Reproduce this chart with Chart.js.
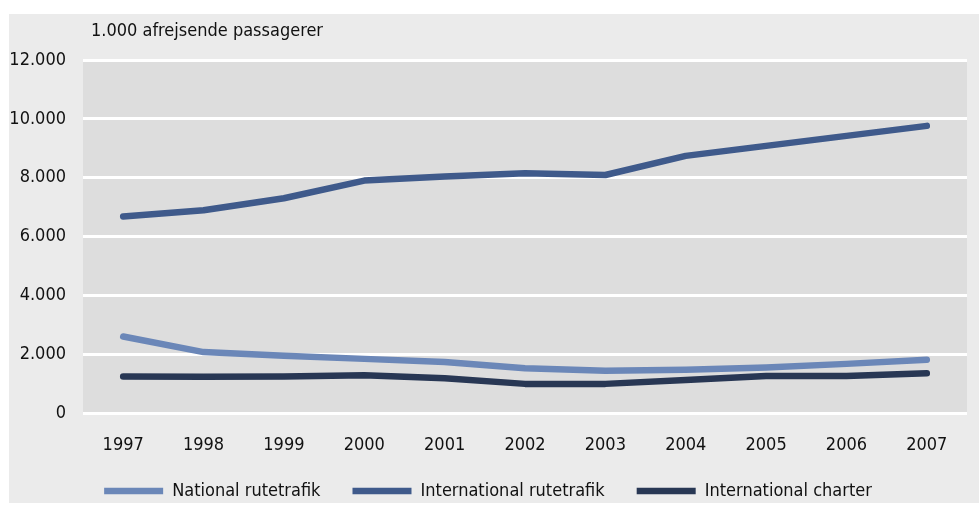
<!DOCTYPE html>
<html>
<head>
<meta charset="utf-8">
<script src="https://cdn.jsdelivr.net/npm/chart.js@4"></script>
<style>
  body { margin: 0; background: #fff; font-family: "Liberation Sans Narrow", "DejaVu Sans Condensed", sans-serif; }
  #box { position: absolute; left: 9px; top: 14px; width: 970px; height: 489px; background: #ebebeb; }
  #unit { position: absolute; left: 82px; top: 5px; font-size: 18px; color: #111; }
  #wrap { position: absolute; left: 0; top: 0; width: 970px; height: 489px; }
</style>
</head>
<body>
<div id="box">
  <div id="wrap"><canvas id="chart"></canvas></div>
  <div id="unit">1.000 afrejsende passagerer</div>
</div>
<script>
// data (1.000 afrejsende passagerer)
const years = ['1997', '1998', '1999', '2000', '2001', '2002', '2003', '2004', '2005', '2006', '2007'];
const nationalRute = [2600, 2070, 1950, 1840, 1730, 1520, 1440, 1470, 1550, 1670, 1810];
const internationalRute = [6680, 6890, 7300, 7900, 8040, 8150, 8090, 8740, 9080, 9420, 9760];
const internationalCharter = [1240, 1230, 1240, 1285, 1180, 990, 990, 1125, 1260, 1260, 1350];
const seriesNames = ['National rutetrafik', 'International rutetrafik', 'International charter'];
const seriesColors = ['#6b87b8', '#3f5a8b', '#283754'];

const FONT = { family: '"Liberation Sans Narrow", "DejaVu Sans Condensed", sans-serif', size: 18 };

// fills the plot area with the darker grey
const plotBg = {
  id: 'plotBg',
  beforeDraw(chart) {
    const { ctx, chartArea: a } = chart;
    ctx.save();
    ctx.fillStyle = '#dddddd';
    ctx.fillRect(a.left, a.top, a.right - a.left, a.bottom - a.top);
    ctx.restore();
  }
};

function lineSet(label, data, color) {
  return {
    label, data,
    borderColor: color,
    backgroundColor: color,
    borderWidth: 6.5,
    borderCapStyle: 'round',
    borderJoinStyle: 'round',
    pointRadius: 0,
    tension: 0
  };
}

new Chart(document.getElementById('chart'), {
  type: 'line',
  data: {
    labels: years,
    datasets: [
      lineSet(seriesNames[0], nationalRute, seriesColors[0]),
      lineSet(seriesNames[1], internationalRute, seriesColors[1]),
      lineSet(seriesNames[2], internationalCharter, seriesColors[2])
    ]
  },
  options: {
    responsive: true,
    maintainAspectRatio: false,
    animation: false,
    layout: { padding: { top: 46, right: 12, left: 0, bottom: -7 } },
    plugins: {
      tooltip: { enabled: false },
      legend: {
        position: 'bottom',
        labels: {
          usePointStyle: true,
          pointStyle: 'line',
          pointStyleWidth: 59,
          padding: 32,
          color: '#111',
          font: FONT
        }
      }
    },
    scales: {
      x: {
        offset: true,
        // squeeze the axis box so the legend sits closer to the labels
        afterFit(scale) { scale.height = 37; },
        grid: { display: false, drawTicks: false },
        border: { display: false },
        ticks: { color: '#111', font: FONT, padding: 22, maxRotation: 0 }
      },
      y: {
        min: 0,
        max: 12000,
        afterFit(scale) { scale.width = 74; },
        grid: { color: '#ffffff', lineWidth: 3, drawTicks: false },
        border: { display: false },
        ticks: {
          stepSize: 2000,
          color: '#111',
          font: FONT,
          padding: 17,
          callback: v => v.toLocaleString('da-DK')
        }
      }
    }
  },
  plugins: [plotBg]
});
</script>
</body>
</html>
